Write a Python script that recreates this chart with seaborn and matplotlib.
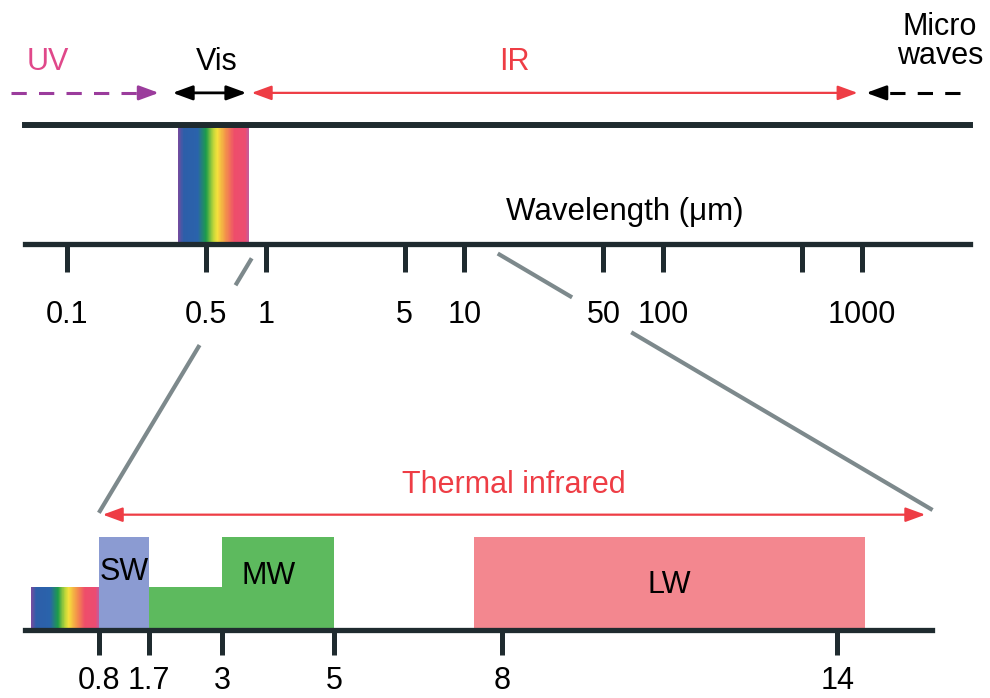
import numpy as np
import matplotlib
matplotlib.use('Agg')
import matplotlib.pyplot as plt
import seaborn as sns
from matplotlib.colors import LinearSegmentedColormap
from matplotlib.ticker import NullLocator

# ESCALA SUPERIOR (longitud de onda en um, logaritmica)
ticks_arriba = [0.1, 0.5, 1, 5, 10, 50, 100, 500, 1000]
etiquetas_arriba = ['0.1', '0.5', '1', '5', '10', '50', '100', '', '1000']
vis_arriba = [0.36, 0.82]          # franja del visible en la escala de arriba

# rangos de las flechas (um)
uv_rango = [0.052, 0.29]
vis_rango = [0.34, 0.80]
ir_rango = [0.85, 950]
micro_rango = [3100, 1050]

# ESCALA INFERIOR (um, lineal)
ticks_abajo = [0.8, 1.7, 3, 5, 8, 14]
etiquetas_abajo = ['0.8', '1.7', '3', '5', '8', '14']
bandas = ['SW', 'MW', 'LW']
bandas_ini = [0.8, 3, 7.5]
bandas_fin = [1.7, 5, 14.5]
bandas_alto = [1, 1, 1]
bandas_color = ['#8b9bd2', '#5dba5e', '#f3878f']
escalon_ini = [1.7]                # relleno verde bajo entre SW y MW
escalon_fin = [3]
escalon_alto = [0.46]
vis_abajo = [-0.42, 0.8]
termico_rango = [0.87, 15.57]

# lineas de zoom (um arriba -> um abajo)
zoom_arriba = [0.85, 14.7]
zoom_abajo = [0.8, 15.7]

oscuro = '#1f2b2f'
rojo = '#ee3d45'
gris = '#7d898c'

arcoiris = LinearSegmentedColormap.from_list('arcoiris', [
    (0.0, '#7b4a9e'), (0.08, '#2d5ea9'), (0.28, '#2a63ab'), (0.40, '#1c9c4a'),
    (0.50, '#b9d53a'), (0.56, '#f4e03c'), (0.68, '#f3914a'), (0.80, '#ee4d6a'),
    (0.96, '#ec4c72'), (1.0, '#c55a9a')])

sns.set_theme(style='white')
plt.rcParams['font.family'] = ['Liberation Sans', 'DejaVu Sans']

fig = plt.figure(figsize=(9.9, 6.98), dpi=100)
W, H = 990, 698

# eje de arriba
ax1 = fig.add_axes([25 / W, (H - 244) / H, 945 / W, 119 / H])
ax1.set_facecolor('none')
ax1.set_xscale('log')
ax1.set_xlim(0.0615, 3494)
ax1.set_ylim(0, 1)
xs = np.geomspace(vis_arriba[0], vis_arriba[1], 200)
ax1.pcolormesh(xs, [0, 1], np.linspace(0, 1, 199).reshape(1, -1), cmap=arcoiris, shading='flat')
for lado in ['left', 'right']:
    ax1.spines[lado].set_visible(False)
ax1.spines['top'].set_linewidth(4.3)
ax1.spines['bottom'].set_linewidth(3.8)
for lado in ['top', 'bottom']:
    ax1.spines[lado].set_color(oscuro)
ax1.set_xticks(ticks_arriba)
ax1.set_xticklabels(etiquetas_arriba)
ax1.xaxis.set_minor_locator(NullLocator())
ax1.set_yticks([])
ax1.tick_params(axis='x', direction='out', length=20, width=3.6, color=oscuro, pad=20,
                labelsize=22, labelcolor='black', bottom=True)

def flecha(ax, x0, x1, y, color, estilo, lw=2):
    ax.annotate('', xy=(x1, y), xytext=(x0, y), annotation_clip=False,
                arrowprops=dict(arrowstyle=estilo + ',head_length=0.6,head_width=0.22',
                                color=color, lw=lw, shrinkA=0, shrinkB=0, mutation_scale=20))

fy = 1.27
# UV discontinua
ax1.plot([uv_rango[0], uv_rango[1] * 0.88], [fy, fy], color='#9b3c9c', lw=2.2,
         dashes=(5, 4), clip_on=False)
flecha(ax1, uv_rango[1] * 0.85, uv_rango[1], fy, '#9b3c9c', '-|>')
flecha(ax1, vis_rango[0], vis_rango[1], fy, 'black', '<|-|>')
flecha(ax1, ir_rango[0], ir_rango[1], fy, rojo, '<|-|>', lw=1.6)
ax1.plot([micro_rango[0], micro_rango[1] * 1.12], [fy, fy], color='black', lw=2.2,
         dashes=(5, 4), clip_on=False)
flecha(ax1, micro_rango[1] * 1.15, micro_rango[1], fy, 'black', '-|>')

ax1.text(0.080, 1.53, 'UV', color='#e0488a', fontsize=22, ha='center', va='center')
ax1.text(0.57, 1.53, 'Vis', color='black', fontsize=22, ha='center', va='center')
ax1.text(17.9, 1.53, 'IR', color=rojo, fontsize=22, ha='center', va='center')
ax1.text(2466, 1.70, 'Micro\nwaves', color='black', fontsize=22, ha='center', va='center',
         linespacing=0.95)
ax1.text(64, 0.27, 'Wavelength (\u03bcm)', color='black', fontsize=22.5, ha='center', va='center')

# eje de abajo
ax2 = fig.add_axes([25 / W, (H - 630) / H, 907 / W, 93 / H])
ax2.set_facecolor('none')
ax2.set_xlim(-0.52, 15.69)
ax2.set_ylim(0, 1)
ax2.bar(bandas_ini, bandas_alto, width=np.array(bandas_fin) - np.array(bandas_ini),
        align='edge', color=bandas_color, linewidth=0)
ax2.bar(escalon_ini, escalon_alto, width=np.array(escalon_fin) - np.array(escalon_ini),
        align='edge', color=bandas_color[1], linewidth=0)
xs2 = np.linspace(vis_abajo[0], vis_abajo[1], 200)
ax2.pcolormesh(xs2, [0, escalon_alto[0]], np.linspace(0, 1, 199).reshape(1, -1),
               cmap=arcoiris, shading='flat')
ax2.text(1.25, 0.62, bandas[0], fontsize=22, ha='center', va='center', color='black')
ax2.text(3.84, 0.58, bandas[1], fontsize=22, ha='center', va='center', color='black')
ax2.text(11.0, 0.48, bandas[2], fontsize=22, ha='center', va='center', color='black')
for lado in ['left', 'right', 'top']:
    ax2.spines[lado].set_visible(False)
ax2.spines['bottom'].set_linewidth(3.8)
ax2.spines['bottom'].set_color(oscuro)
ax2.set_xticks(ticks_abajo)
ax2.set_xticklabels(etiquetas_abajo)
ax2.set_yticks([])
ax2.tick_params(axis='x', direction='out', length=18, width=3.6, color=oscuro, pad=8,
                labelsize=22, labelcolor='black', bottom=True)

flecha(ax2, termico_rango[0], termico_rango[1], 1.24, rojo, '<|-|>', lw=1.6)
ax2.text(8.21, 1.56, 'Thermal infrared', color=rojo, fontsize=22, ha='center', va='center')

# lineas de zoom, cortadas detras de las etiquetas
over = fig.add_axes([0, 0, 1, 1])
over.set_facecolor('none')
over.axis('off')
over.set_xlim(0, 1)
over.set_ylim(0, 1)

def a_over(ax, x, y):
    return over.transAxes.inverted().transform(ax.transData.transform((x, y)))

huecos = [(0.106, 0.341), (0.171, 0.307)]
for i in range(2):
    p0 = a_over(ax1, zoom_arriba[i], -0.12 if i == 0 else -0.08)
    p1 = a_over(ax2, zoom_abajo[i], 1.26 if i == 0 else 1.29)
    for t0, t1 in [(0, huecos[i][0]), (huecos[i][1], 1)]:
        a = p0 + (p1 - p0) * t0
        b = p0 + (p1 - p0) * t1
        over.plot([a[0], b[0]], [a[1], b[1]], color=gris, lw=3, solid_capstyle='butt')

plt.savefig('out.png', dpi=100)
